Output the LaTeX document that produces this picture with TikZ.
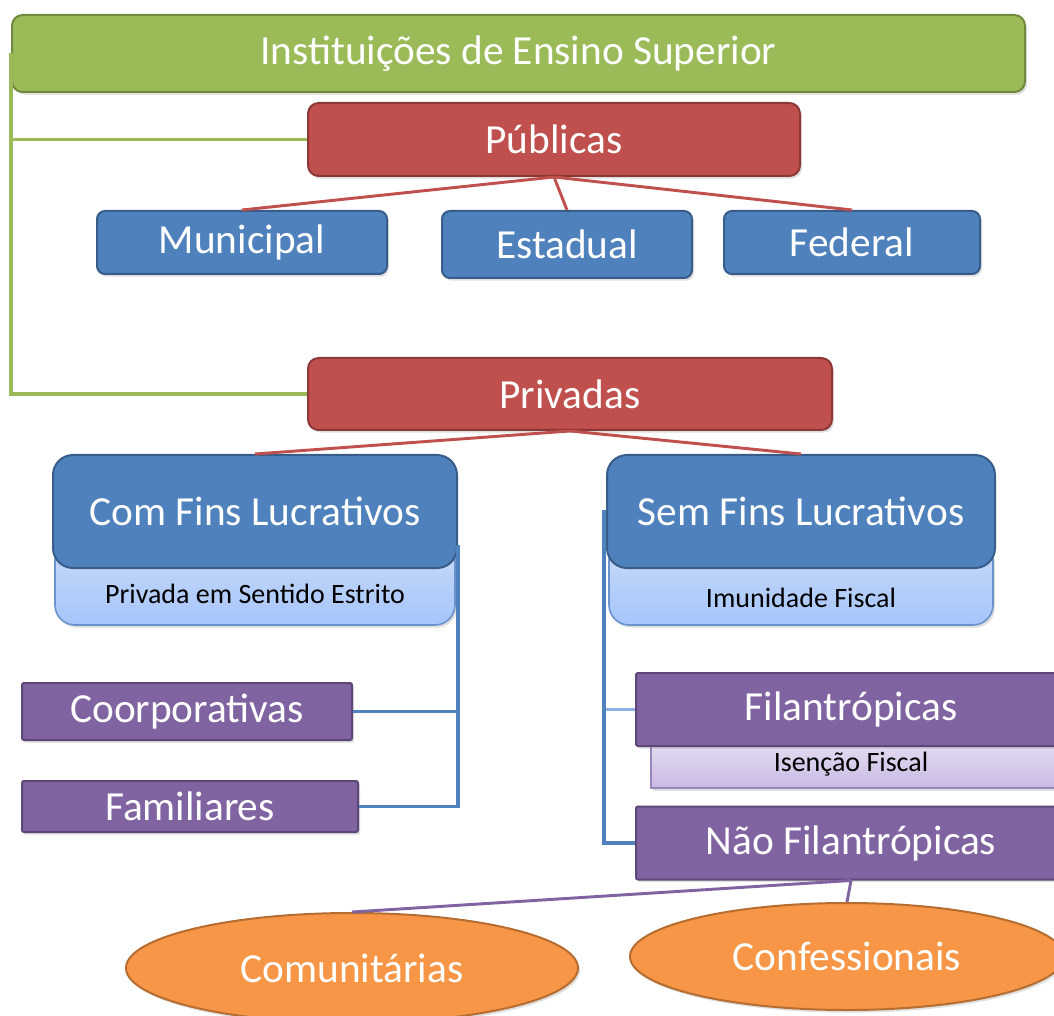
\documentclass[tikz,border=0pt]{standalone}
\usepackage{fontspec}
\setmainfont{Carlito}
\usetikzlibrary{shapes.geometric,shadows}
\definecolor{gfill}{HTML}{9BBB59}
\definecolor{gdraw}{HTML}{71893F}
\definecolor{rfill}{HTML}{C0504D}
\definecolor{rdraw}{HTML}{8C3836}
\definecolor{bfill}{HTML}{4F81BD}
\definecolor{bdraw}{HTML}{385D8A}
\definecolor{pfill}{HTML}{8064A2}
\definecolor{pdraw}{HTML}{5C4776}
\definecolor{ofill}{HTML}{F79646}
\definecolor{odraw}{HTML}{B66D31}
\definecolor{lbtop}{HTML}{CADCF9}
\definecolor{lbbot}{HTML}{A6C5FA}
\definecolor{lbdraw}{HTML}{6A93CC}
\definecolor{lptop}{HTML}{E3DAF0}
\definecolor{lpbot}{HTML}{C9BAE5}
\definecolor{lpdraw}{HTML}{9A86B8}
\definecolor{lblink}{HTML}{8DB3E2}
\begin{document}
\begin{tikzpicture}[x=0.75pt,y=-0.75pt,
  bigtext/.style={text=white,font=\fontsize{31}{36}\selectfont},
  smalltext/.style={text=black,font=\fontsize{21}{25}\selectfont},
  shade/.style={drop shadow={opacity=0.25,shadow xshift=1.5pt,shadow yshift=-2pt}},
  greenbox/.style={draw=gdraw,fill=gfill,line width=1.5pt,rounded corners=8pt,bigtext,shade,inner sep=0pt},
  redbox/.style={draw=rdraw,fill=rfill,line width=1.5pt,rounded corners=8pt,bigtext,shade,inner sep=0pt},
  bluebox/.style={draw=bdraw,fill=bfill,line width=1.5pt,rounded corners=6pt,bigtext,shade,inner sep=0pt},
  bigblue/.style={draw=bdraw,fill=bfill,line width=1.5pt,rounded corners=15pt,bigtext,inner sep=0pt},
  bluepanel/.style={draw=lbdraw,top color=lbtop,bottom color=lbbot,line width=1.2pt,rounded corners=15pt,shade,inner sep=0pt},
  purplebox/.style={draw=pdraw,fill=pfill,line width=1.5pt,rounded corners=1.5pt,bigtext,shade,inner sep=0pt},
  purplepanel/.style={draw=lpdraw,top color=lptop,bottom color=lpbot,line width=1.2pt,shade,inner sep=0pt},
  oval/.style={ellipse,draw=odraw,fill=ofill,line width=1.5pt,bigtext,shade,inner sep=0pt},
  glink/.style={draw=gfill,line width=2.5pt},
  rlink/.style={draw=rfill,line width=2.2pt},
  blink/.style={draw=bfill,line width=2.4pt},
  lblinkst/.style={draw=lblink,line width=2.2pt},
  plink/.style={draw=pfill,line width=2.2pt}
]
\useasboundingbox (0,0) rectangle (1054,1016);

% top
\node[greenbox,minimum width=759.75pt,minimum height=57.75pt] (ies) at (518.5,53.5) {Instituições de Ensino Superior};
\node[redbox,minimum width=369pt,minimum height=54.75pt] (pub) at (554,139.5) {Públicas};
\node[bluebox,minimum width=217.5pt,minimum height=47.25pt] (mun) at (242,242.5) {Municipal};
\node[bluebox,minimum width=187.5pt,minimum height=50.25pt] (est) at (567,244.5) {Estadual};
\node[bluebox,minimum width=192pt,minimum height=47.25pt] (fed) at (852,242.5) {Federal};
\node[redbox,minimum width=393pt,minimum height=54pt] (priv) at (570,394) {Privadas};

% com / sem fins
\node[bluepanel,minimum width=300pt,minimum height=63.75pt] (comsub) at (255,582.5) {};
\node[smalltext] (comsubt) at (255,594) {Privada em Sentido Estrito};
\node[bigblue,minimum width=303pt,minimum height=84.75pt] (com) at (255,511.5) {Com Fins Lucrativos};
\node[bluepanel,minimum width=288pt,minimum height=63.75pt] (semsub) at (801,582.5) {};
\node[smalltext] (semsubt) at (801,598) {Imunidade Fiscal};
\node[bigblue,minimum width=291pt,minimum height=84.75pt] (sem) at (801,511.5) {Sem Fins Lucrativos};

% left purple
\node[purplebox,minimum width=247.5pt,minimum height=42.75pt] (coor) at (187,711.5) {Coorporativas};
\node[purplebox,minimum width=252pt,minimum height=38.25pt] (fam) at (190,806.5) {Familiares};

% right purple
\node[purplepanel,minimum width=314.25pt,minimum height=32.25pt] (isen) at (860.5,766.5) {};
\node[smalltext] (isent) at (851,764) {Isenção Fiscal};
\node[purplebox,minimum width=322.5pt,minimum height=54.75pt] (fil) at (851,709.5) {Filantrópicas};
\node[purplebox,minimum width=322.5pt,minimum height=54.75pt] (nfil) at (851,843) {Não Filantrópicas};

% ovals
\node[oval,minimum width=339pt,minimum height=82.5pt] (comu) at (352,968) {Comunitárias};
\node[oval,minimum width=325.5pt,minimum height=80.25pt] (conf) at (847,956.5) {Confessionais};

% connectors
\path[glink] (ies.west) |- (pub.west);
\path[glink] (ies.west) |- (priv.west);
\path[rlink] (pub.south) -- (mun.north);
\path[rlink] (pub.south) -- (est.north);
\path[rlink] (pub.south) -- (fed.north);
\path[rlink] (priv.south) -- (com.north);
\path[rlink] (priv.south) -- (sem.north);
\coordinate (cl) at (458,545);
\path[blink] (cl) |- (coor.east);
\path[blink] (cl) |- (fam.east);
\coordinate (cr) at (604,510);
\path[lblinkst] (cr) |- (fil.west);
\path[blink] (cr) |- (nfil.west);
\path[plink] (nfil.south) -- (comu.north);
\path[plink] (nfil.south) -- (conf.north);
\end{tikzpicture}
\end{document}
